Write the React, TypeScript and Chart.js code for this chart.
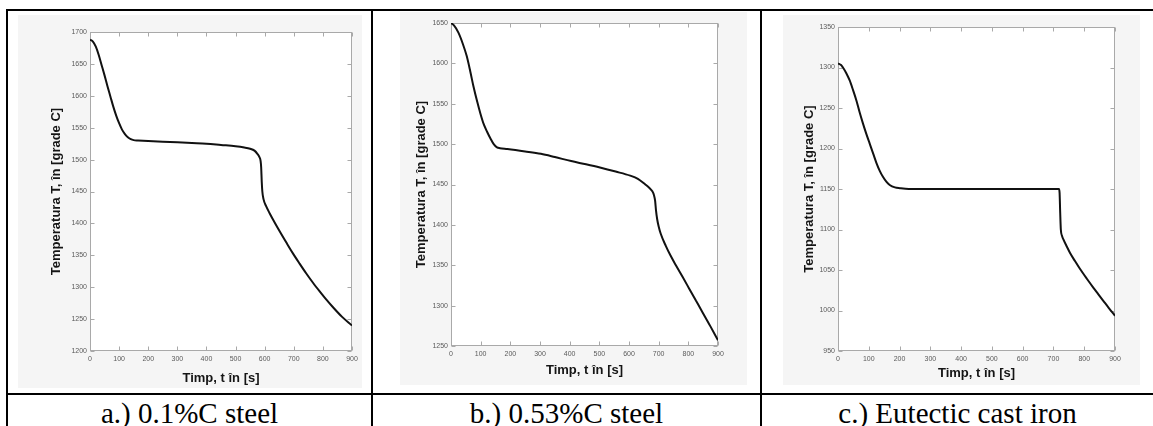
import React, { useEffect, useRef } from "react";
import { Chart, registerables } from "chart.js";

Chart.register(...registerables);

// ---------- data ----------
const TIME_A = [0, 10, 20, 30, 40, 50, 60, 70, 80, 90, 100, 110, 120, 130, 140, 150, 165, 200, 250, 300, 350, 400, 450, 500, 530, 550, 565, 575, 582, 586, 588, 590, 592, 596, 605, 617, 630, 651, 675, 697, 720, 743, 766, 789, 812, 834, 866, 900];
const TEMP_A = [1688, 1685, 1677, 1664, 1648, 1632, 1615, 1599, 1583, 1569, 1557, 1547, 1540, 1535, 1532, 1530.5, 1530, 1529, 1528, 1527, 1526, 1525, 1523, 1521, 1519, 1517, 1514, 1509, 1504, 1498, 1488, 1465, 1450, 1438, 1427, 1416, 1405, 1388, 1369.5, 1353, 1337, 1321.5, 1307, 1293.5, 1280.5, 1269, 1253.5, 1240];

const TIME_B = [0, 10, 25, 40, 53, 65, 76, 88, 99, 110, 122, 133, 144, 155, 165, 190, 250, 303, 350, 405, 455, 502, 555, 604, 630, 655, 668, 678, 684, 688, 691, 695, 700, 707, 724, 740, 758, 780, 803, 826, 849, 875, 900];
const TEMP_B = [1650, 1647, 1638, 1624, 1609, 1590, 1571, 1553, 1538, 1525, 1515, 1507, 1500, 1496, 1495, 1494, 1491, 1488, 1484, 1479, 1475, 1471, 1466, 1461, 1457, 1450, 1446, 1442, 1437, 1430, 1418, 1407, 1398, 1389, 1374, 1362, 1350, 1336, 1321, 1306, 1291, 1274, 1257];

const TIME_C = [0, 10, 16, 27, 38, 49, 60, 70, 81, 92, 103, 114, 125, 136, 146, 157, 168, 185, 201, 230, 400, 600, 718, 720, 722, 724, 728, 732, 742, 754, 770, 786, 808, 830, 846, 862, 880, 900];
const TEMP_C = [1305, 1303, 1300, 1293, 1284, 1272, 1259, 1245, 1231, 1218, 1206, 1194, 1182, 1172, 1165, 1159, 1155, 1152, 1151, 1150, 1150, 1150, 1150, 1145, 1120, 1100, 1092, 1088, 1080, 1071, 1061, 1051.5, 1039.5, 1028, 1020, 1012, 1003, 993.5];

const X_TICKS = [0, 100, 200, 300, 400, 500, 600, 700, 800, 900];
const Y_TICKS_A = [1200, 1250, 1300, 1350, 1400, 1450, 1500, 1550, 1600, 1650, 1700];
const Y_TICKS_B = [1250, 1300, 1350, 1400, 1450, 1500, 1550, 1600, 1650];
const Y_TICKS_C = [950, 1000, 1050, 1100, 1150, 1200, 1250, 1300, 1350];

const Y_TITLE = "Temperatura T, în [grade C]";
const X_TITLE = "Timp, t în [s]";
const CAPTIONS = ["a.) 0.1%C steel", "b.) 0.53%C steel", "c.) Eutectic cast iron"];

// ---------- styling ----------
const AXIS_FONT = "'Liberation Sans', Arial, sans-serif";
const SERIF = "'Liberation Serif', 'Times New Roman', serif";

const framePlugin = {
  id: "matlabFrame",
  beforeDraw(chart: any) {
    const { ctx, chartArea } = chart;
    const { left, top, right, bottom } = chartArea;
    ctx.save();
    ctx.fillStyle = "#ffffff";
    ctx.fillRect(left, top, right - left, bottom - top);
    ctx.restore();
  },
  beforeDatasetsDraw(chart: any) {
    const { ctx, chartArea, scales } = chart;
    const { left, top, right, bottom } = chartArea;
    const L = Math.round(left) + 0.5;
    const R = Math.round(right) - 0.5;
    const T = Math.round(top) + 0.5;
    const B = Math.round(bottom) - 0.5;
    ctx.save();
    ctx.strokeStyle = "#a9a9a9";
    ctx.lineWidth = 1;
    ctx.strokeRect(L, T, R - L, B - T);
    const len = 4;
    ctx.beginPath();
    scales.x.ticks.forEach((t: any) => {
      const px = Math.round(scales.x.getPixelForValue(t.value)) + 0.5;
      ctx.moveTo(px, B);
      ctx.lineTo(px, B - len);
      ctx.moveTo(px, T);
      ctx.lineTo(px, T + len);
    });
    scales.y.ticks.forEach((t: any) => {
      const py = Math.round(scales.y.getPixelForValue(t.value)) + 0.5;
      ctx.moveTo(L, py);
      ctx.lineTo(L + len, py);
      ctx.moveTo(R, py);
      ctx.lineTo(R - len, py);
    });
    ctx.stroke();
    ctx.restore();
  },
};

type PanelProps = {
  times: number[];
  temps: number[];
  yTicks: number[];
  box: { left: number; top: number; width: number; height: number };
  pad: { top: number; right: number };
  yWidth: number;
  xHeight: number;
  yTitlePad: number;
  xTitlePad: number;
};

function Panel(p: PanelProps) {
  const ref = useRef<HTMLCanvasElement | null>(null);
  useEffect(() => {
    if (!ref.current) return;
    const yMin = p.yTicks[0];
    const yMax = p.yTicks[p.yTicks.length - 1];
    const chart = new Chart(ref.current, {
      type: "line",
      data: {
        datasets: [
          {
            data: p.times.map((t, i) => ({ x: t, y: p.temps[i] })),
            borderColor: "#111111",
            borderWidth: 2,
            pointRadius: 0,
            cubicInterpolationMode: "monotone",
            fill: false,
          },
        ],
      },
      options: {
        animation: false,
        responsive: false,
        devicePixelRatio: 1,
        layout: { padding: { left: 0, top: p.pad.top, right: p.pad.right, bottom: 0 } },
        plugins: { legend: { display: false }, tooltip: { enabled: false } },
        scales: {
          x: {
            type: "linear",
            min: 0,
            max: 900,
            afterBuildTicks: (s: any) => {
              s.ticks = X_TICKS.map((v) => ({ value: v }));
            },
            afterFit: (s: any) => {
              s.height = p.xHeight;
            },
            grid: { display: false, drawTicks: false },
            border: { display: false },
            ticks: {
              color: "#5a5a5a",
              font: { family: AXIS_FONT, size: 7 },
              padding: 4,
              autoSkip: false,
              maxRotation: 0,
              callback: (v: any) => String(v),
            },
            title: {
              display: true,
              text: X_TITLE,
              color: "#151515",
              font: { family: AXIS_FONT, size: 13, weight: "bold" },
              padding: { top: 0, bottom: p.xTitlePad },
            },
          },
          y: {
            type: "linear",
            min: yMin,
            max: yMax,
            afterBuildTicks: (s: any) => {
              s.ticks = p.yTicks.map((v) => ({ value: v }));
            },
            afterFit: (s: any) => {
              s.width = p.yWidth;
            },
            grid: { display: false, drawTicks: false },
            border: { display: false },
            ticks: {
              color: "#5a5a5a",
              font: { family: AXIS_FONT, size: 7 },
              padding: 3,
              autoSkip: false,
              callback: (v: any) => String(v),
            },
            title: {
              display: true,
              text: Y_TITLE,
              color: "#151515",
              font: { family: AXIS_FONT, size: 13, weight: "bold" },
              padding: { top: p.yTitlePad, bottom: 0 },
            },
          },
        },
      } as any,
      plugins: [framePlugin],
    });
    return () => chart.destroy();
  }, []);
  return (
    <canvas
      ref={ref}
      width={p.box.width}
      height={p.box.height}
      style={{
        position: "absolute",
        left: p.box.left,
        top: p.box.top,
        width: p.box.width,
        height: p.box.height,
        background: "#f5f5f5",
      }}
    />
  );
}

function Line({ l, t, w, h }: { l: number; t: number; w: number; h: number }) {
  return <div style={{ position: "absolute", left: l, top: t, width: w, height: h, background: "#000" }} />;
}

function Caption({ text, left, width }: { text: string; left: number; width: number }) {
  return (
    <div
      style={{
        position: "absolute",
        left,
        top: 397,
        width,
        height: 32,
        lineHeight: "32px",
        textAlign: "center",
        fontFamily: SERIF,
        fontSize: 29,
        color: "#000",
        whiteSpace: "nowrap",
      }}
    >
      {text}
    </div>
  );
}

export default function App() {
  return (
    <div
      style={{
        position: "absolute",
        left: 0,
        top: 0,
        width: 1153,
        height: 426,
        overflow: "hidden",
        background: "#fff",
      }}
    >
      <Panel
        times={TIME_A}
        temps={TEMP_A}
        yTicks={Y_TICKS_A}
        box={{ left: 18, top: 15, width: 344, height: 373 }}
        pad={{ top: 17, right: 10 }}
        yWidth={72}
        xHeight={37}
        yTitlePad={31}
        xTitlePad={2}
      />
      <Panel
        times={TIME_B}
        temps={TEMP_B}
        yTicks={Y_TICKS_B}
        box={{ left: 400, top: 12, width: 347, height: 373 }}
        pad={{ top: 11, right: 29 }}
        yWidth={51}
        xHeight={39}
        yTitlePad={14}
        xTitlePad={7}
      />
      <Panel
        times={TIME_C}
        temps={TEMP_C}
        yTicks={Y_TICKS_C}
        box={{ left: 783, top: 15, width: 357, height: 370 }}
        pad={{ top: 12, right: 25 }}
        yWidth={55}
        xHeight={34}
        yTitlePad={19}
        xTitlePad={4}
      />
      {/* table borders */}
      <Line l={6} t={9} w={1147} h={2} />
      <Line l={6} t={9} w={2} h={417} />
      <Line l={371} t={9} w={2} h={417} />
      <Line l={760} t={9} w={2} h={417} />
      <Line l={6} t={393} w={1147} h={2} />
      <Caption text={CAPTIONS[0]} left={8} width={363} />
      <Caption text={CAPTIONS[1]} left={373} width={387} />
      <Caption text={CAPTIONS[2]} left={762} width={391} />
    </div>
  );
}
